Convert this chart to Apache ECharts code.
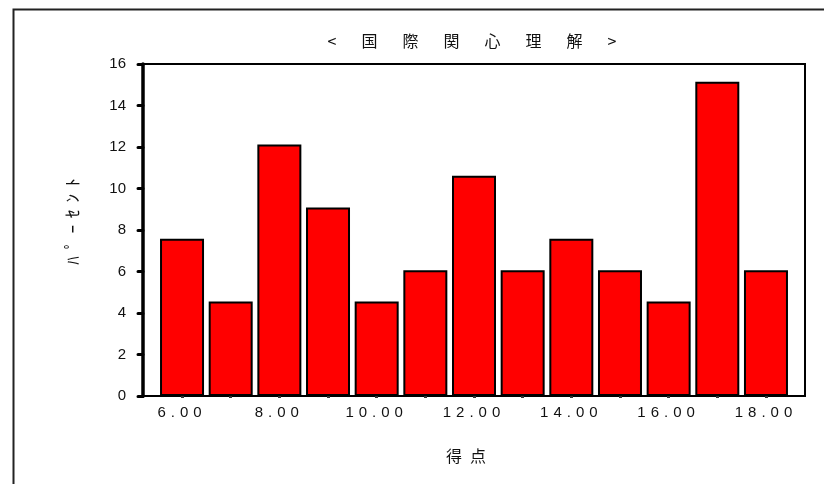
<!DOCTYPE html>
<html><head><meta charset="utf-8">
<script src="https://cdn.jsdelivr.net/npm/echarts@6/dist/echarts.min.js"></script>
<style>html,body{margin:0;padding:0;background:#fff}#c{width:824px;height:484px}</style>
</head><body><div id="c"></div>
<script>
// ---- data ----
const categories = ['6.00','7.00','8.00','9.00','10.00','11.00','12.00','13.00','14.00','15.00','16.00','17.00','18.00'];
const percentValues = [7.58, 4.55, 12.12, 9.09, 4.55, 6.06, 10.61, 6.06, 7.58, 6.06, 4.55, 15.15, 6.06];
const yMin = 0, yMax = 16, yStep = 2;
const titleChars = ['<','国','際','関','心','理','解','>'];
const yNameChars = ['ﾊ','ﾟ','ｰ','ｾ','ﾝ','ﾄ'];
const xNameChars = ['得','点'];

const latin = '"Liberation Sans", Arial, sans-serif';
const cjk = '"Noto Sans CJK JP", sans-serif';
const spaced = s => s.split('').join('\u2004') + '\u2004';

const chart = echarts.init(document.getElementById('c'), null, {renderer:'canvas'});
chart.setOption({
  animation: false,
  backgroundColor: '#fff',
  title: {
    text: titleChars.join('\u3000\u2002\u200A'),
    left: 467, top: 28, textAlign: 'center',
    textStyle: {fontFamily: cjk, fontSize: 16, fontWeight: 'normal', color: '#111'}
  },
  graphic: [{
    type: 'rect', left: 11, top: 7, silent: true,
    shape: {width: 1000, height: 1000},
    style: {fill: null, stroke: '#222', lineWidth: 2}
  }],
  grid: [
    {left: 143, top: 64, width: 662, height: 332, show: true, borderColor: '#000', borderWidth: 2, backgroundColor: 'transparent', containLabel: false},
    {left: 157.7, top: 64, width: 632.6, height: 332, containLabel: false}
  ],
  xAxis: [
    {gridIndex: 0, type: 'value', min: 0, max: 1, show: false},
    {gridIndex: 1, type: 'category', data: categories, offset: 3,
     axisLine: {show: false},
     axisTick: {show: true, alignWithLabel: true, interval: 0, length: 2, lineStyle: {width: 3, color: '#333'}},
     axisLabel: {interval: 1, margin: 6, fontFamily: latin, fontSize: 15, color: '#111', formatter: v => spaced(v)},
     name: xNameChars.join('\u2002'), nameLocation: 'middle', nameGap: 49,
     nameTextStyle: {fontFamily: cjk, fontSize: 16, color: '#111', padding: [0, 16, 0, 0]}
    }
  ],
  yAxis: [
    {gridIndex: 0, type: 'value', min: yMin, max: yMax, interval: yStep,
     axisLine: {show: true, lineStyle: {color: '#000', width: 3.5}},
     axisTick: {show: true, length: 5, lineStyle: {color: '#000', width: 3, cap: 'round'}},
     axisLabel: {margin: 17, fontFamily: latin, fontSize: 15, color: '#111'},
     splitLine: {show: false},
     name: '\u3000' + yNameChars.join('\u2005\u2006'), nameLocation: 'middle', nameRotate: 90, nameGap: 62,
     nameTextStyle: {fontFamily: cjk, fontSize: 17, color: '#111'}
    },
    {gridIndex: 1, type: 'value', min: yMin, max: yMax, show: false}
  ],
  series: [{
    type: 'bar', xAxisIndex: 1, yAxisIndex: 1,
    data: percentValues, barWidth: 44,
    itemStyle: {color: '#ff0000', borderColor: '#000', borderWidth: 2}
  }]
});
</script></body></html>
